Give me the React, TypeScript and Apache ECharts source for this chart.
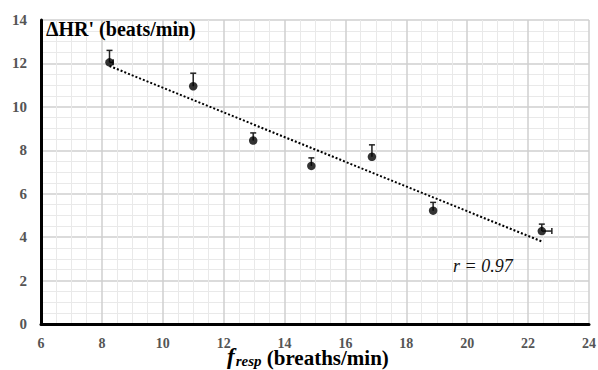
import React, { useEffect, useRef } from "react";
import * as echarts from "echarts";

const xTicks = [6, 8, 10, 12, 14, 16, 18, 20, 22, 24];
const yTicks = [0, 2, 4, 6, 8, 10, 12, 14];
const fResp = [8.25, 11.0, 12.97, 14.88, 16.87, 18.88, 22.45];
const dHR = [12.05, 10.95, 8.45, 7.28, 7.7, 5.22, 4.28];
const errUp = [0.55, 0.6, 0.35, 0.37, 0.55, 0.38, 0.32];
const errRight = [0.12, 0, 0, 0, 0, 0, 0.33];
const trendX = [8.25, 22.45];
const trendY = [11.88, 3.8];
const rLabel = "r = 0.97";
const yTitle = "ΔHR' (beats/min)";

const SERIF = "Liberation Serif";

export default function App() {
  const ref = useRef<HTMLDivElement>(null);
  useEffect(() => {
    const chart = echarts.init(ref.current!, undefined, { renderer: "svg" });
    const pts = fResp.map((x, i) => [x, dHR[i], errUp[i], errRight[i]]);
    chart.setOption({
      animation: false,
      grid: { left: 41, right: 9, top: 20, bottom: 46, outerBoundsMode: "none", containLabel: false },
      xAxis: {
        type: "value",
        min: xTicks[0],
        max: xTicks[xTicks.length - 1],
        interval: 2,
        axisLine: { show: true, onZero: false, lineStyle: { color: "#000", width: 3 } },
        axisTick: { show: false },
        minorTick: { show: false, splitNumber: 4 },
        splitLine: { show: true, lineStyle: { color: "#cfcfcf", width: 1.5 } },
        minorSplitLine: { show: true, lineStyle: { color: "#e9e9e9", width: 1 } },
        axisLabel: {
          margin: 12,
          color: "#555",
          fontFamily: SERIF,
          fontWeight: "bold",
          fontSize: 14,
        },
      },
      yAxis: {
        type: "value",
        min: yTicks[0],
        max: yTicks[yTicks.length - 1],
        interval: 2,
        axisLine: { show: true, onZero: false, lineStyle: { color: "#000", width: 3 } },
        axisTick: { show: false },
        minorTick: { show: false, splitNumber: 4 },
        splitLine: { show: true, lineStyle: { color: "#cfcfcf", width: 1.5 } },
        minorSplitLine: { show: true, lineStyle: { color: "#e9e9e9", width: 1 } },
        axisLabel: {
          margin: 14,
          color: "#555",
          fontFamily: SERIF,
          fontWeight: "bold",
          fontSize: 15,
        },
      },
      graphic: [
        {
          type: "text",
          left: 46,
          top: 19,
          style: {
            text: yTitle,
            fontFamily: SERIF,
            fontWeight: "bold",
            fontSize: 20,
            fill: "#000",
          },
          z: 100,
        },
        {
          type: "text",
          left: 453,
          top: 257,
          style: {
            text: rLabel,
            fontFamily: SERIF,
            fontStyle: "italic",
            fontSize: 18,
            fill: "#111",
          },
          z: 100,
        },
        {
          type: "text",
          left: 227,
          top: 345,
          style: {
            text: "{f|f}{sub|resp}{t| (breaths/min)}",
            rich: {
              f: { fontFamily: SERIF, fontWeight: "bold", fontStyle: "italic", fontSize: 23, fill: "#000", verticalAlign: "bottom", padding: [0, 1, 0, 0] },
              sub: { fontFamily: SERIF, fontWeight: "bold", fontStyle: "italic", fontSize: 15, fill: "#000", verticalAlign: "bottom" },
              t: { fontFamily: SERIF, fontWeight: "bold", fontSize: 21, fill: "#000", verticalAlign: "bottom" },
            },
          },
          z: 100,
        },
      ],
      series: [
        {
          type: "line",
          data: trendX.map((x, i) => [x, trendY[i]]),
          symbol: "none",
          lineStyle: { color: "#000", width: 2, type: [2, 2] },
          z: 2,
        },
        {
          type: "custom",
          data: pts,
          z: 3,
          renderItem: (params: any, api: any) => {
            const x = api.value(0);
            const y = api.value(1);
            const eu = api.value(2);
            const er = api.value(3);
            const p = api.coord([x, y]);
            const top = api.coord([x, y + eu]);
            const children: any[] = [
              { type: "line", shape: { x1: p[0], y1: p[1], x2: top[0], y2: top[1] }, style: { stroke: "#222", lineWidth: 1.5 } },
              { type: "line", shape: { x1: top[0] - 3, y1: top[1], x2: top[0] + 3, y2: top[1] }, style: { stroke: "#222", lineWidth: 1.5 } },
            ];
            if (er > 0) {
              const r = api.coord([x + er, y]);
              children.push(
                { type: "line", shape: { x1: p[0], y1: p[1], x2: r[0], y2: r[1] }, style: { stroke: "#222", lineWidth: 1.5 } },
                { type: "line", shape: { x1: r[0], y1: r[1] - 3, x2: r[0], y2: r[1] + 3 }, style: { stroke: "#222", lineWidth: 1.5 } }
              );
            }
            return { type: "group", children };
          },
        },
        {
          type: "scatter",
          data: fResp.map((x, i) => [x, dHR[i]]),
          symbol: "circle",
          symbolSize: 8.5,
          itemStyle: { color: "#000" },
          z: 4,
        },
      ],
    });
    return () => chart.dispose();
  }, []);
  return <div ref={ref} style={{ width: 598, height: 370, position: "absolute", left: 0, top: 0 }} />;
}
